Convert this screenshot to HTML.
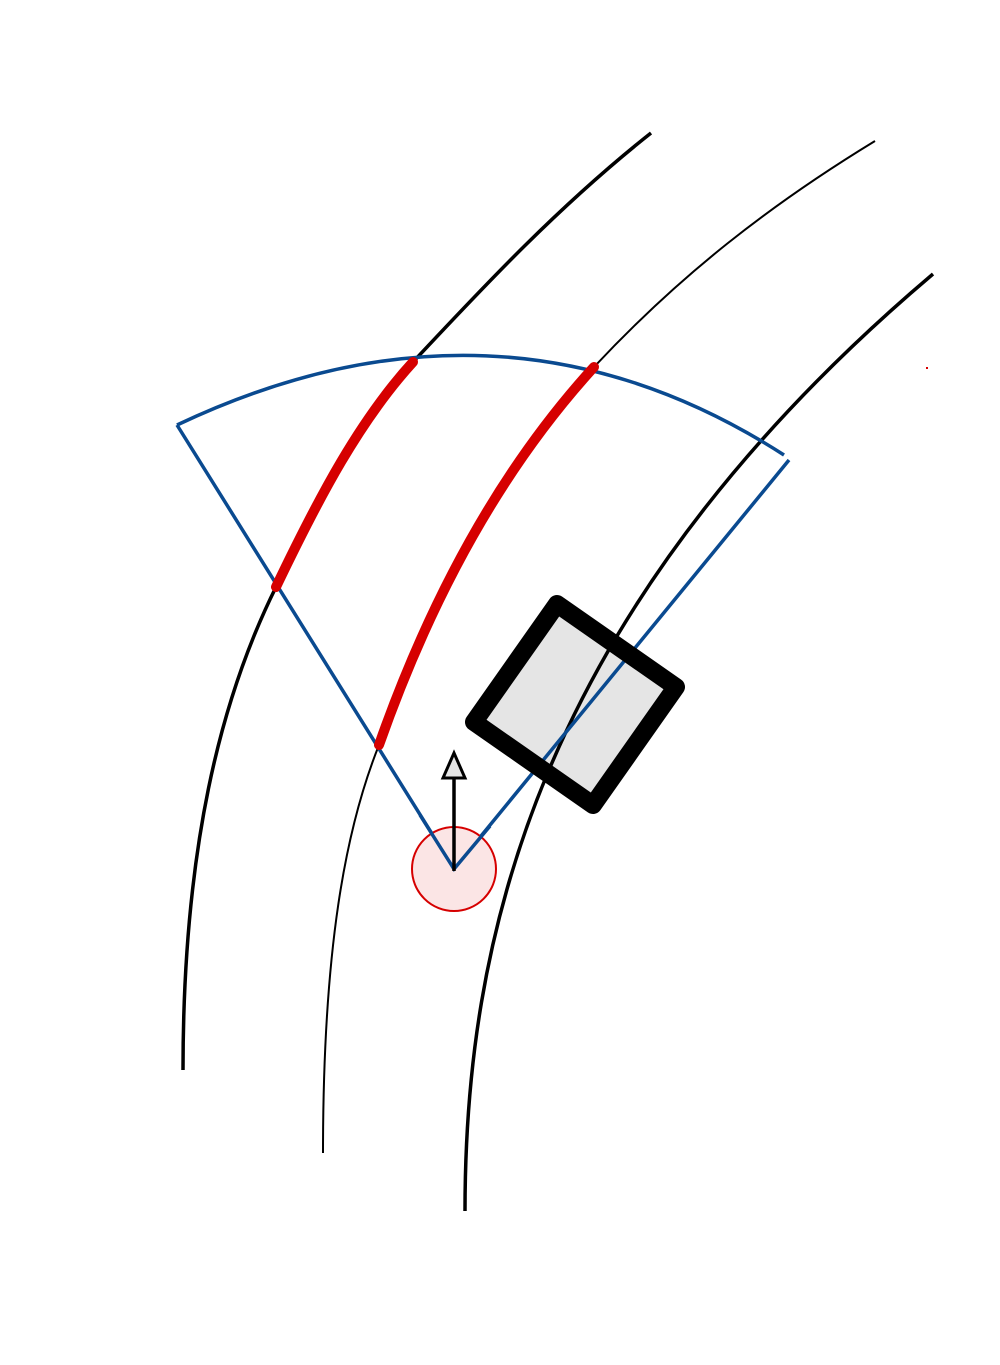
<!DOCTYPE html>
<html><head><meta charset="utf-8"><style>html,body{margin:0;padding:0;background:#fff}svg{display:block}</style></head>
<body>
<svg width="1000" height="1365" viewBox="0 0 1000 1365">
  <polygon points="557,604 676,687 593,805 474,722" fill="#e5e5e5"/>
  <path d="M183,1070 C183,850 220,700 276,587 C320,495 360,420 413,362 C485,285 560,205 651,133" fill="none" stroke="#000" stroke-width="3.5"/>
  <path d="M323,1153 C323,950 345,830 379,745 C430,600 500,470 594,367 C680,275 770,205 875,141" fill="none" stroke="#000" stroke-width="2"/>
  <path d="M465,1211 C465,950 530,615 933,274" fill="none" stroke="#000" stroke-width="3.5"/>
  <path d="M177,425 Q500,272 784,455" fill="none" stroke="#0a4a90" stroke-width="3.5"/>
  <polyline points="177,425 454,869 789,460" fill="none" stroke="#0a4a90" stroke-width="3.5"/>
  <path d="M276,587 C320,495 360,420 413,362" fill="none" stroke="#d60000" stroke-width="10" stroke-linecap="round"/>
  <path d="M379,745 C430,600 500,470 594,367" fill="none" stroke="#d60000" stroke-width="10" stroke-linecap="round"/>
  <polygon points="557,604 676,687 593,805 474,722" fill="none" stroke="#000" stroke-width="18" stroke-linejoin="round"/>
  <circle cx="454" cy="869" r="42" fill="#fbe5e5" stroke="#d60000" stroke-width="2"/>
  <polyline points="420,815 454,869 490,826" fill="none" stroke="#0a4a90" stroke-width="3.5"/>
  <line x1="454" y1="871" x2="454" y2="778" stroke="#000" stroke-width="3.5"/>
  <polygon points="443,778 465,778 454,753" fill="#e5e5e5" stroke="#000" stroke-width="3"/>
  <rect x="926" y="367" width="2" height="2" fill="#d60000"/>
</svg>
</body></html>
